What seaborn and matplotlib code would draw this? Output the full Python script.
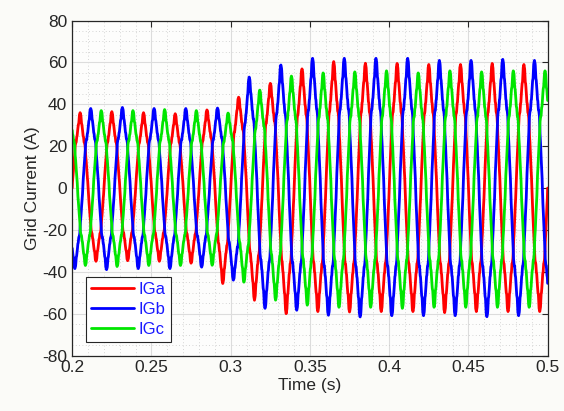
import numpy as np
import pandas as pd
import matplotlib
matplotlib.use("Agg")
import matplotlib.pyplot as plt
import seaborn as sns
from matplotlib.ticker import MultipleLocator

# grid current, 3 phases, 50 Hz, window 0.2 - 0.5 s
freq = 50.0
t_start = 0.2
t_end = 0.5

phase_names = ["IGa", "IGb", "IGc"]
phase_shift_deg = [0, -120, 120]

# peak / trough values per cycle (A)
ia_peaks = [36, 36.5, 36, 35.5, 37.3, 43.4, 50, 56.9, 60.4, 59.6, 59.5, 59, 59, 59.5, 59]
ia_troughs = [-35, -35, -34.7, -35, -35.9, -45.6, -53.6, -60, -59, -59.2, -59, -59, -59.5, -59, -59]
ib_peaks = [38, 38.5, 38, 38, 38.2, 53, 58.8, 62, 62, 62, 62, 61, 61, 61.5, 61]
ib_troughs = [-38.5, -39, -38.5, -38.5, -37.8, -44, -57.5, -58.4, -60.8, -61.6, -61, -61, -61, -61.5, -61]
ic_peaks = [37, 37, 37.5, 37, 35.8, 46.8, 53.5, 55, 55.5, 56, 55, 56, 55.5, 56, 56]
ic_troughs = [-37, -37.5, -37, -37, -36.9, -45, -53.6, -56, -57, -57, -57.5, -57, -57, -57, -57]

# harmonic content of the converter current (relative to fundamental)
harmonic_orders = [5, 7, 13, 23, 37]
harmonic_ratios = [0.05, -0.025, 0.015, 0.012, 0.008]

legend_labels = ["IGa", "IGb", "IGc"]
ytick_vals = [-80, -60, -40, -20, 0, 20, 40, 60, 80]
xtick_vals = [0.2, 0.25, 0.3, 0.35, 0.4, 0.45, 0.5]
xtick_labels = ["0.2", "0.25", "0.3", "0.35", "0.4", "0.45", "0.5"]


def shape(phi):
    y = np.sin(phi)
    for n, r in zip(harmonic_orders, harmonic_ratios):
        y = y + r * np.sin(n * phi)
    return y


phi_ref = np.linspace(0, 2 * np.pi, 4000)
shape_max = np.abs(shape(phi_ref)).max()

t = np.linspace(t_start, t_end, 3001)
period = 1.0 / freq
peak_lists = [ia_peaks, ib_peaks, ic_peaks]
trough_lists = [ia_troughs, ib_troughs, ic_troughs]

frames = []
for name, sh, pk, tr in zip(phase_names, phase_shift_deg, peak_lists, trough_lists):
    # time of first positive peak / trough of this phase
    t_pk0 = t_start + ((90 - sh) % 360) / 360.0 * period
    t_tr0 = t_start + ((270 - sh) % 360) / 360.0 * period
    if t_tr0 > t_pk0:
        t_tr0 -= period
    pk_t = t_pk0 + period * np.arange(len(pk))
    tr_t = t_tr0 + period * np.arange(len(tr))
    ext_t = np.concatenate([pk_t, tr_t])
    ext_v = np.abs(np.concatenate([pk, tr]))
    order = np.argsort(ext_t)
    amp = np.interp(t, ext_t[order], ext_v[order])
    phi = 2 * np.pi * freq * (t - t_start) + np.deg2rad(sh)
    frames.append(pd.DataFrame({"Time": t, "Current": amp * shape(phi) / shape_max, "phase": name}))

df = pd.concat(frames, ignore_index=True)

sns.set_style("white")
plt.rcParams["font.family"] = ["Liberation Sans", "DejaVu Sans"]
plt.rcParams["axes.unicode_minus"] = False

fig = plt.figure(figsize=(5.64, 4.11), dpi=100, facecolor="#fbfbf8")
ax = fig.add_axes([0.128, 0.135, 0.843, 0.815])
ax.set_facecolor("#fdfdfc")

palette = {"IGa": "#ff0000", "IGb": "#0000ff", "IGc": "#00e600"}
sns.lineplot(data=df, x="Time", y="Current", hue="phase", palette=palette,
             estimator=None, linewidth=2.0, ax=ax)

ax.set_xlim(t_start, t_end)
ax.set_ylim(-80, 80)
ax.set_xticks(xtick_vals)
ax.set_xticklabels(xtick_labels)
ax.set_yticks(ytick_vals)
ax.xaxis.set_minor_locator(MultipleLocator(0.01))
ax.yaxis.set_minor_locator(MultipleLocator(5))
ax.grid(True, which="major", color="#dcdcdc", linewidth=0.8)
ax.grid(True, which="minor", color="#c8c8c8", linestyle=(0, (1, 3)), linewidth=0.6)
ax.set_axisbelow(True)
ax.tick_params(which="major", direction="in", length=4, top=True, right=True,
               labelsize=12.5, labelcolor="#262626", color="#262626", width=0.8)
ax.tick_params(which="minor", length=0)
for sp in ax.spines.values():
    sp.set_color("#262626")
    sp.set_linewidth(0.9)

ax.set_xlabel("Time (s)", fontsize=12.5, color="#262626", labelpad=2)
ax.set_ylabel("Grid Current (A)", fontsize=12.5, color="#262626", labelpad=2)

leg = ax.legend(legend_labels, loc="lower left", bbox_to_anchor=(0.028, 0.04),
                fontsize=12, frameon=True, fancybox=False, framealpha=1,
                handlelength=2.6, handletextpad=0.3, borderpad=0.3, labelspacing=0.3,
                borderaxespad=0)
leg.get_frame().set_edgecolor("#262626")
leg.get_frame().set_linewidth(0.8)
for txt in leg.get_texts():
    txt.set_color("#1a1aff")

fig.savefig("out.png", dpi=100, facecolor=fig.get_facecolor())
